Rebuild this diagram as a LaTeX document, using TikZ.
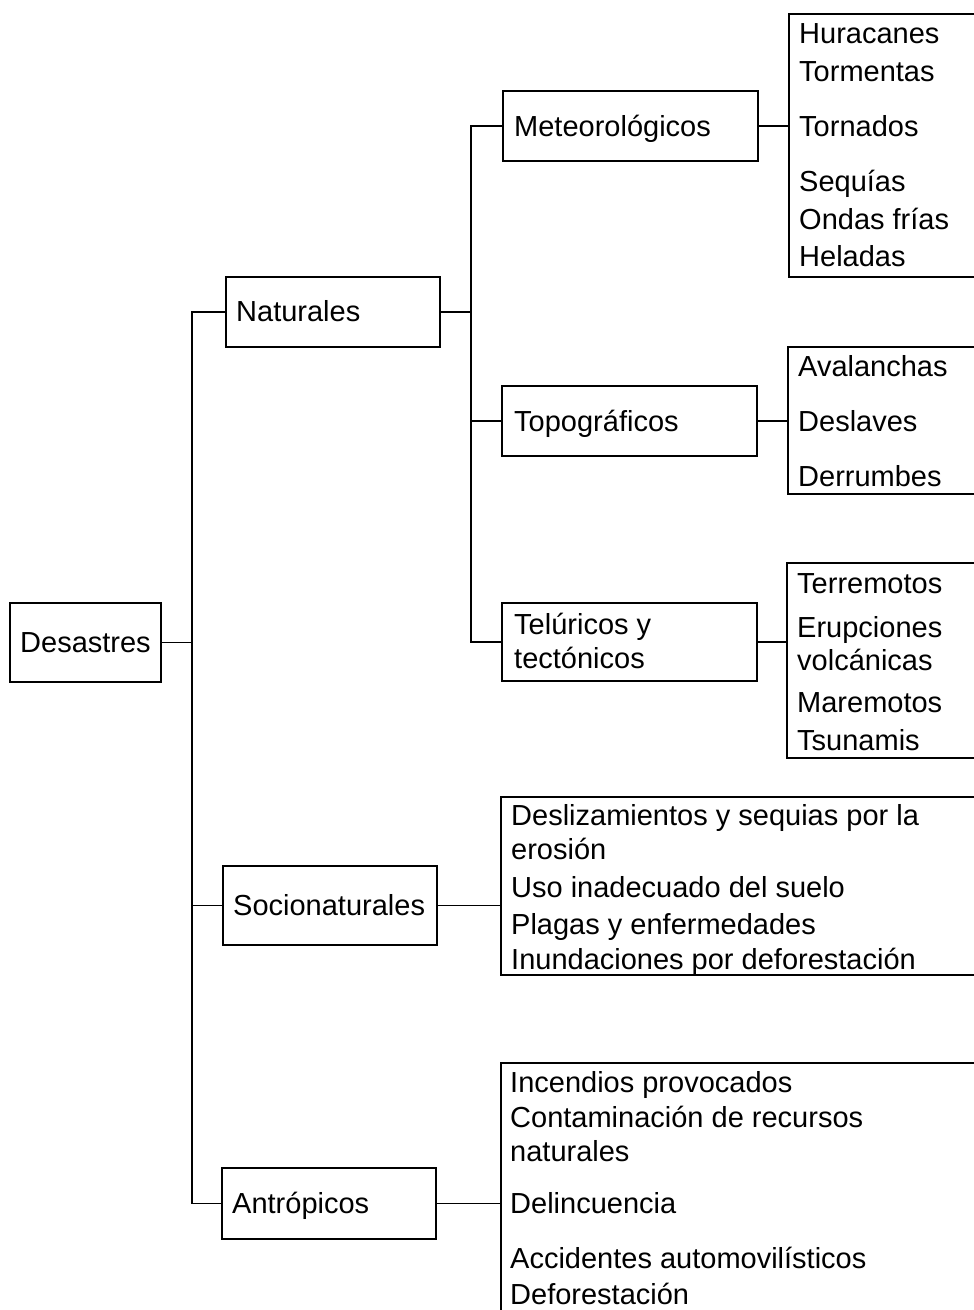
\documentclass[tikz,border=0pt]{standalone}
\usepackage{fontspec}
\setmainfont{Liberation Sans}
\begin{document}
\begin{tikzpicture}[x=1pt,y=-1pt,
  box/.style={draw, line width=1.5pt, inner sep=0pt, anchor=north west, rectangle},
  txt/.style={anchor=base west, inner sep=0pt, font=\fontsize{29}{34}\selectfont},
  conn/.style={line width=1.5pt}]
\useasboundingbox (0,0) rectangle (974,1310);
\clip (0,0) rectangle (974,1310);
% trunk coordinates
\coordinate (t1) at (192,0);
\coordinate (t2) at (471,0);
% level boxes
\node[box, minimum width=151pt, minimum height=79pt] (des) at (9,602) {};
\node[box, minimum width=214pt, minimum height=70pt] (nat) at (225,276) {};
\node[box, minimum width=214pt, minimum height=79pt] (socio) at (222,865) {};
\node[box, minimum width=214pt, minimum height=71pt] (antr) at (221,1167) {};
\node[box, minimum width=255pt, minimum height=70pt] (meteo) at (502,90) {};
\node[box, minimum width=255pt, minimum height=70pt] (topo) at (501,385) {};
\node[box, minimum width=255pt, minimum height=78pt] (tel) at (501,602) {};
% list boxes (cut by the right edge)
\node[box, minimum width=250pt, minimum height=263pt] (meteolist) at (788,13) {};
\node[box, minimum width=250pt, minimum height=147pt] (topolist) at (787,346) {};
\node[box, minimum width=250pt, minimum height=195pt] (tellist) at (786,562) {};
\node[box, minimum width=520pt, minimum height=178pt] (sociolist) at (500,796) {};
\node[box, minimum width=520pt, minimum height=300pt] (antrlist) at (500,1062) {};
% box texts
\node[txt] (desT) at (20,652.5) {Desastres};
\node[txt] (natT) at (236,321.5) {Naturales};
\node[txt] (socioT) at (233,915.5) {Socionaturales};
\node[txt] (antrT) at (232,1213.5) {Antrópicos};
\node[txt] (meteoT) at (514,136.5) {Meteorológicos};
\node[txt] (topoT) at (514,431.5) {Topográficos};
\node[txt] (telT1) at (514,634.5) {Telúricos y};
\node[txt] (telT2) at (514,668.5) {tectónicos};
% meteorological list
\node[txt] (m1) at (799,43.5) {Huracanes};
\node[txt] (m2) at (799,81.5) {Tormentas};
\node[txt] (m3) at (799,136.5) {Tornados};
\node[txt] (m4) at (799,191.5) {Sequías};
\node[txt] (m5) at (799,229.5) {Ondas frías};
\node[txt] (m6) at (799,266.5) {Heladas};
% topographic list
\node[txt] (p1) at (798,376.5) {Avalanchas};
\node[txt] (p2) at (798,431.5) {Deslaves};
\node[txt] (p3) at (798,486.5) {Derrumbes};
% telluric list
\node[txt] (e1) at (797,593.5) {Terremotos};
\node[txt] (e2) at (797,637.5) {Erupciones};
\node[txt] (e3) at (797,670.5) {volcánicas};
\node[txt] (e4) at (797,712.5) {Maremotos};
\node[txt] (e5) at (797,750.5) {Tsunamis};
% socionatural list
\node[txt] (s1) at (511,825.5) {Deslizamientos y sequias por la};
\node[txt] (s2) at (511,859.5) {erosión};
\node[txt] (s3) at (511,897) {Uso inadecuado del suelo};
\node[txt] (s4) at (511,934) {Plagas y enfermedades};
\node[txt] (s5) at (511,969) {Inundaciones por deforestación};
% anthropic list
\node[txt] (a1) at (510,1092.5) {Incendios provocados};
\node[txt] (a2) at (510,1127.5) {Contaminación de recursos};
\node[txt] (a3) at (510,1161.5) {naturales};
\node[txt] (a4) at (510,1213.5) {Delincuencia};
\node[txt] (a5) at (510,1268.5) {Accidentes automovilísticos};
\node[txt] (a6) at (510,1304.5) {Deforestación};
% connectors, first level
\draw[conn] (des.east) -- (des.east -| t1);
\draw[conn] (nat.west) -- (nat.west -| t1) -- (antr.west -| t1) -- (antr.west);
\draw[conn] (socio.west) -- (socio.west -| t1);
% connectors, second level
\draw[conn] (nat.east) -- (nat.east -| t2);
\draw[conn] (meteo.west) -- (meteo.west -| t2) -- (tel.west -| t2) -- (tel.west);
\draw[conn] (topo.west) -- (topo.west -| t2);
% to lists
\draw[conn] (meteo.east) -- (meteo.east -| meteolist.west);
\draw[conn] (topo.east) -- (topo.east -| topolist.west);
\draw[conn] (tel.east) -- (tel.east -| tellist.west);
\draw[conn] (socio.east) -- (socio.east -| sociolist.west);
\draw[conn] (antr.east) -- (antr.east -| antrlist.west);
\end{tikzpicture}
\end{document}
